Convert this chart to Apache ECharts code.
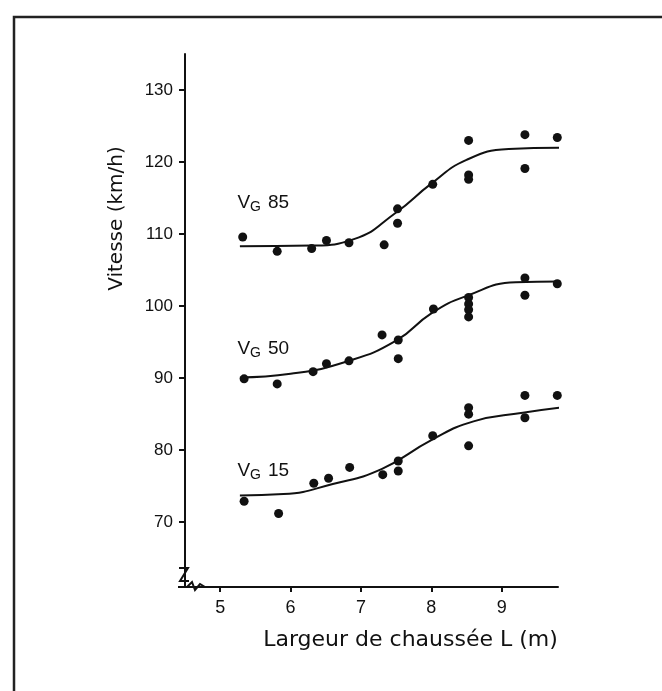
<!DOCTYPE html>
<html>
<head>
<meta charset="utf-8">
<script src="https://cdn.jsdelivr.net/npm/echarts@6/dist/echarts.min.js"></script>
<style>
  html, body { margin: 0; padding: 0; background: #fff; }
  #main { width: 662px; height: 691px; }
</style>
</head>
<body>
<div id="main"></div>
<script>
// 数据
var xTicks = [5, 6, 7, 8, 9];
var yTicks = [70, 80, 90, 100, 110, 120, 130];

// VG 85
var pts85 = [[5.32, 109.6], [5.81, 107.6], [6.3, 108.0], [6.51, 109.1], [6.83, 108.8], [7.33, 108.5],
  [7.52, 113.5], [7.52, 111.5], [8.02, 116.9], [8.53, 123.0], [8.53, 118.2], [8.53, 117.6],
  [9.33, 123.8], [9.33, 119.1], [9.79, 123.4]];
var curve85 = [[5.28, 108.3], [6.3, 108.4], [6.9, 109.3], [7.5, 113.0], [8.0, 117.0],
  [8.5, 120.3], [9.1, 121.8], [9.82, 122.0]];

// VG 50
var pts50 = [[5.34, 89.9], [5.81, 89.2], [6.32, 90.9], [6.51, 92.0], [6.83, 92.4], [7.3, 96.0],
  [7.53, 95.3], [7.53, 92.7], [8.03, 99.6], [8.53, 101.2], [8.53, 100.3], [8.53, 99.5], [8.53, 98.5],
  [9.33, 103.9], [9.33, 101.5], [9.79, 103.1]];
var curve50 = [[5.28, 90.1], [6.0, 90.6], [6.8, 92.3], [7.5, 95.2], [8.0, 99.0],
  [8.5, 101.4], [9.2, 103.3], [9.82, 103.4]];

// VG 15
var pts15 = [[5.34, 72.9], [5.83, 71.2], [6.33, 75.4], [6.54, 76.1], [6.84, 77.6], [7.31, 76.6],
  [7.53, 78.5], [7.53, 77.1], [8.02, 82.0], [8.53, 85.9], [8.53, 85.0], [8.53, 80.6],
  [9.33, 87.6], [9.33, 84.5], [9.79, 87.6]];
var curve15 = [[5.28, 73.7], [5.9, 73.9], [6.6, 75.3], [7.3, 77.4], [8.0, 81.4],
  [8.6, 84.0], [9.3, 85.2], [9.82, 85.9]];

var seriesNames = ['85', '50', '15'];

(function () {
  var myChart = echarts.init(document.getElementById('main'));
  var font = 'Liberation Sans, Arial, sans-serif';
  var wide = 'DejaVu Sans, sans-serif';
  var ink = '#111';

  // 曲线 + 标注
  function curve(data, name, dy) {
    return {
      type: 'line',
      data: data,
      smooth: 0.5,
      showSymbol: false,
      lineStyle: { color: ink, width: 2 },
      silent: true,
      z: 3,
      markPoint: {
        symbol: 'rect',
        symbolSize: 1,
        itemStyle: { color: 'rgba(0,0,0,0)' },
        label: {
          show: true,
          position: 'right',
          distance: 0,
          offset: [-3, dy],
          color: ink,
          fontFamily: font,
          formatter: '{v|V}{g|G}{n|' + name + '}',
          rich: {
            v: { fontSize: 19, fontFamily: font, color: ink },
            g: { fontSize: 14, fontFamily: font, color: ink, padding: [10, 0, 0, 0] },
            n: { fontSize: 19, fontFamily: font, color: ink, padding: [0, 0, 0, 7] }
          },
          fontSize: 19
        },
        data: [{ coord: data[0] }]
      }
    };
  }

  function dots(data) {
    return {
      type: 'scatter',
      data: data,
      symbol: 'circle',
      symbolSize: 9,
      itemStyle: { color: ink, opacity: 1 },
      z: 4
    };
  }

  var option = {
    animation: false,
    backgroundColor: '#fff',
    grid: { left: 185, top: 54, width: 373, height: 533 },
    xAxis: {
      type: 'value',
      min: 4.5,
      max: 9.8,
      name: 'Largeur de chaussée L (m)',
      nameLocation: 'middle',
      nameGap: 42,
      nameTextStyle: { color: ink, fontSize: 22, fontFamily: wide, padding: [0, 0, 0, 78] },
      axisLine: { onZero: false, lineStyle: { color: ink, width: 2 } },
      axisTick: { customValues: xTicks, length: 5, lineStyle: { color: ink, width: 2 } },
      axisLabel: { customValues: xTicks, color: ink, fontSize: 18, fontFamily: font, margin: 12 },
      splitLine: { show: false }
    },
    yAxis: {
      type: 'value',
      min: 61,
      max: 135,
      name: 'Vitesse (km/h)',
      nameLocation: 'middle',
      nameGap: 58,
      nameRotate: 90,
      nameTextStyle: { color: ink, fontSize: 20, fontFamily: wide, padding: [0, 0, 0, 204] },
      axisLine: { lineStyle: { color: ink, width: 2 } },
      axisTick: { customValues: yTicks, length: 6, lineStyle: { color: ink, width: 2 } },
      axisLabel: { customValues: yTicks, color: ink, fontSize: 17, fontFamily: font, margin: 12 },
      splitLine: { show: false }
    },
    series: [
      curve(curve85, seriesNames[0], -44),
      curve(curve50, seriesNames[1], -29),
      curve(curve15, seriesNames[2], -25),
      dots(pts85),
      dots(pts50),
      dots(pts15)
    ]
  };
  myChart.setOption(option);

  // 断轴符号 + 外框
  var o = myChart.convertToPixel({ gridIndex: 0 }, [4.5, 61]);
  var ox = Math.round(o[0]), oy = Math.round(o[1]);
  var stroke = { stroke: ink, lineWidth: 2, fill: null };
  myChart.setOption({
    graphic: [
      { type: 'polyline', shape: { points: [[14, 691], [14, 17], [662, 17]] }, style: { stroke: '#222', lineWidth: 2.5, fill: null } },
      { type: 'polyline', shape: { points: [[ox - 6, oy - 19], [ox + 3, oy - 19], [ox - 5, oy - 6], [ox + 4, oy - 6]] }, style: stroke },
      { type: 'line', shape: { x1: ox - 7, y1: oy, x2: ox + 2, y2: oy }, style: stroke },
      { type: 'rect', shape: { x: ox + 4, y: oy - 3, width: 16, height: 6 }, style: { fill: '#fff' } },
      { type: 'polyline', shape: { points: [[ox + 2, oy], [ox + 7, oy - 5], [ox + 10, oy + 3], [ox + 15, oy - 3], [ox + 20, oy]] }, style: stroke }
    ]
  });

  window.addEventListener('resize', function () {
    myChart.resize();
  });
})();
</script>
</body>
</html>
